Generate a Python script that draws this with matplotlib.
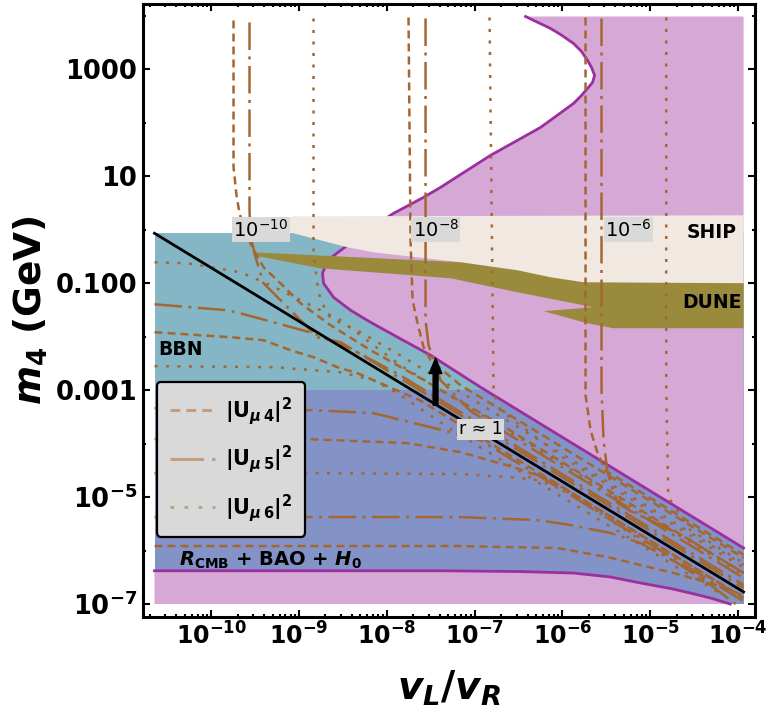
import numpy as np
import matplotlib
matplotlib.use('Agg')
import matplotlib.pyplot as plt
from matplotlib.lines import Line2D

# 字体设置：刻度与标签用粗体 DejaVu Sans
plt.rcParams['font.family'] = ['DejaVu Sans']
plt.rcParams['mathtext.fontset'] = 'custom'
plt.rcParams['mathtext.rm'] = 'DejaVu Sans:bold'
plt.rcParams['mathtext.it'] = 'DejaVu Sans:italic:bold'
plt.rcParams['mathtext.bf'] = 'DejaVu Sans:bold'
plt.rcParams['mathtext.sf'] = 'DejaVu Sans'

# ---- 数据（均为 log10 值，从图上读取） ----
x_lo, x_hi = -10.646, -3.937      # 数据区间 log10(vL/vR)
m_lo, m_hi = -7.0, 3.99           # 数据区间 log10(m4/GeV)
bbn_top, bbn_bottom = -0.065, -3.0

# 右上方排除区（紫色边界）
pink_up_lx = [-6.420, -6.135, -6.022, -5.874, -5.783, -5.714, -5.669, -5.634, -5.657, -5.714,
              -5.783, -5.874, -6.045, -6.249, -6.534, -6.819, -7.104, -7.388,
              -7.582, -7.923, -8.187, -8.449, -8.675, -8.732, -8.721, -8.607, -8.413, -8.186,
              -7.878, -7.502, -6.933, -3.937]
pink_up_lm = [3.99, 3.766, 3.654, 3.486, 3.336, 3.168, 3.037, 2.888, 2.757, 2.645,
              2.514, 2.364, 2.159, 1.916, 1.654, 1.393, 1.093, 0.794,
              0.607, 0.308, 0.028, -0.290, -0.570, -0.813, -1.0, -1.262, -1.505, -1.729,
              -2.009, -2.346, -2.944, -5.953]

# 下方排除区 (R_CMB + BAO + H0)
pink_lo_lx = [-10.646, -7.388, -6.477, -5.874, -5.452, -5.110, -4.768, -4.545, -4.313, -4.090]
pink_lo_lm = [-6.378, -6.378, -6.393, -6.421, -6.495, -6.607, -6.710, -6.794, -6.888, -7.0]

# SHIP 与 DUNE 灵敏度区
ship_lx = [-9.268, -9.074, -3.937, -3.937, -5.760, -7.161, -8.151, -8.449, -8.755, -9.154]
ship_lm = [0.028, 0.252, 0.271, -1.0, -1.0, -0.607, -0.421, -0.327, -0.196, -0.028]
dune_lx = [-9.518, -7.161, -6.511, -6.135, -5.760, -3.937, -3.937, -5.418, -5.714, -6.215,
           -5.657, -5.760, -6.511, -7.274, -8.755, -9.518]
dune_lm = [-0.421, -0.607, -0.757, -0.888, -0.981, -1.0, -1.841, -1.841, -1.748, -1.523,
           -1.449, -1.411, -1.168, -0.907, -0.720, -0.477]

# r ≈ 1 直线与箭头
r1_lx = [-10.646, -3.937]
r1_lm = [-0.065, -6.774]
arrow_lx = -7.445
arrow_lm = (-3.280, -2.402)

# |U|^2 等值线：高质量分支（竖直）
u4_g10_lx = [-9.746, -9.746, -9.712, -9.678, -9.609, -9.529, -9.404, -9.211, -8.983, -8.641,
             -8.186, -7.616, -6.705, -5.566, -4.427, -3.937]
u4_g10_lm = [3.916, 1.168, 0.645, 0.308, -0.047, -0.346, -0.701, -1.0, -1.374, -1.785,
             -2.252, -2.776, -3.643, -4.785, -5.927, -6.419]
u5_g10_lx = [-9.564, -9.564, -9.553, -9.496, -9.404, -9.211, -9.017, -8.789, -8.527, -7.616,
             -6.477, -5.338, -3.937]
u5_g10_lm = [3.879, 0.364, -0.103, -0.514, -1.0, -1.318, -1.636, -2.009, -2.103, -3.009,
             -4.151, -5.293, -6.699]
u6_g10_lx = [-8.835, -8.835, -8.800, -8.755, -8.641, -8.300, -7.844, -6.705, -5.566, -4.427, -3.937]
u6_g10_lm = [3.953, -0.383, -0.944, -1.318, -1.654, -1.916, -2.351, -3.493, -4.636, -5.778, -6.269]

u4_g8_lx = [-7.753, -7.730, -7.707, -7.650, -7.582, -7.502, -7.161, -6.477, -5.566, -4.427, -3.937]
u4_g8_lm = [3.972, -0.196, -1.318, -1.748, -2.196, -2.439, -2.907, -3.591, -4.505, -5.647, -6.138]
u5_g8_lx = [-7.559, -7.559, -7.525, -7.388, -7.046, -6.249, -5.110, -3.937]
u5_g8_lm = [3.953, -1.692, -2.159, -2.813, -3.393, -4.193, -5.335, -6.512]
u6_g8_lx = [-6.830, -6.784, -6.705, -6.021, -4.882, -3.937]
u6_g8_lm = [3.972, -3.056, -3.374, -4.234, -5.374, -6.325]

u4_g6_lx = [-5.737, -5.737, -5.680, -5.600, -5.509, -4.996, -4.427, -3.937]
u4_g6_lm = [3.972, -3.093, -3.748, -4.178, -4.507, -5.019, -5.591, -6.082]
u5_g6_lx = [-5.555, -5.555, -5.532, -5.486, -5.372, -5.224, -4.655, -3.937]
u5_g6_lm = [3.953, -2.963, -3.935, -4.551, -5.112, -5.262, -5.699, -6.419]
u6_g6_lx = [-4.818, -4.818, -4.795, -4.545, -3.937]
u6_g6_lm = [3.972, -2.925, -5.0, -5.617, -6.234]

# |U|^2 等值线：低质量分支（水平）
u6_h1_lx = [-10.646, -10.270, -9.666, -9.325, -8.983, -8.527, -7.844, -6.705, -5.566, -4.427, -3.937]
u6_h1_lm = [-0.607, -0.626, -0.794, -1.037, -1.318, -1.692, -2.538, -3.680, -4.822, -5.964, -6.456]
u5_h1_lx = [-10.646, -9.814, -9.586, -8.835, -8.380, -7.844, -6.705, -5.566, -4.427, -3.937]
u5_h1_lm = [-1.393, -1.505, -1.598, -1.935, -2.252, -2.725, -3.867, -5.009, -6.151, -6.643]
u4_h1_lx = [-10.646, -9.780, -9.404, -9.097, -8.835, -8.562, -8.334, -8.152, -7.616, -6.477, -5.338, -3.937]
u4_h1_lm = [-1.916, -2.009, -2.065, -2.252, -2.383, -2.570, -2.682, -2.813, -3.196, -4.338, -5.480, -6.886]

u6_h2_lx = [-10.646, -9.290, -8.527, -8.152, -7.878, -7.274, -6.135, -4.996, -4.199]
u6_h2_lm = [-2.551, -2.570, -2.664, -2.813, -3.056, -3.727, -4.869, -6.009, -6.809]
u5_h2_lx = [-10.646, -8.835, -8.152, -7.502, -6.933, -6.021, -4.882, -3.937]
u5_h2_lm = [-3.336, -3.374, -3.430, -3.692, -3.938, -4.850, -6.0, -6.947]
u4_h2_lx = [-10.646, -8.903, -7.764, -7.161, -6.557, -6.135, -5.566, -4.427, -4.085]
u4_h2_lm = [-3.916, -3.916, -3.991, -4.159, -4.439, -4.682, -5.252, -6.394, -6.738]

u6_h3_lx = [-10.646, -8.903, -7.161, -6.591, -6.283, -5.987, -5.794, -5.338, -4.655, -4.199]
u6_h3_lm = [-4.551, -4.551, -4.570, -4.626, -4.682, -4.869, -5.056, -5.561, -6.271, -6.738]
u5_h3_lx = [-10.646, -7.161, -6.283, -5.908, -5.452, -5.110, -4.689, -4.313, -4.029]
u5_h3_lm = [-5.374, -5.374, -5.430, -5.523, -5.673, -5.860, -6.234, -6.645, -7.0]
u4_h3_lx = [-10.646, -7.161, -6.056, -5.486, -4.734, -4.165, -3.937]
u4_h3_lm = [-5.916, -5.916, -5.953, -6.121, -6.421, -6.682, -6.850]

# 刻度
x_ticks = [-10, -9, -8, -7, -6, -5, -4]
x_ticklabels = [r'$10^{-10}$', r'$10^{-9}$', r'$10^{-8}$', r'$10^{-7}$',
                r'$10^{-6}$', r'$10^{-5}$', r'$10^{-4}$']
y_ticks = [3, 1, -1, -3, -5, -7]
y_ticklabels = ['1000', '10', '0.100', '0.001', r'$10^{-5}$', r'$10^{-7}$']
y_minor = [4, 2, 0, -2, -4, -6]

# 颜色
c_teal = '#84b6c6'
c_blue = '#8393c7'
c_pink = '#d5a8d5'
c_purple = '#9b2f9e'
c_ship = '#f1e8e2'
c_dune = '#9a8a3c'
c_brown = '#a5672f'
c_legend_line = '#c29f7f'
c_box = '#d9d9d9'

ls_u4 = (0, (3.2, 2.0))
ls_u5 = (0, (11, 2.6, 1.2, 2.6))
ls_u6 = (0, (1.2, 3.4))


def P(a):
    return 10.0 ** np.asarray(a, dtype=float)


fig = plt.figure(figsize=(7.68, 7.10), dpi=100)
ax = fig.add_axes([143/768, 1 - 617/710, 612/768, 613/710])
ax.set_xscale('log')
ax.set_yscale('log')

# 区域填充
ax.fill_between(P([x_lo, x_hi]), P(bbn_bottom), P(bbn_top), color=c_teal, lw=0, zorder=1)
ax.fill_between(P([x_lo, x_hi]), P(m_lo), P(bbn_bottom), color=c_blue, lw=0, zorder=1)
ax.fill(P(pink_up_lx + [x_hi]), P(pink_up_lm + [m_hi]), color=c_pink, lw=0, zorder=1.5)
ax.fill(P(pink_lo_lx + [x_lo]), P(pink_lo_lm + [m_lo]), color=c_pink, lw=0, zorder=1.5)
ax.plot(P(pink_up_lx), P(pink_up_lm), color=c_purple, lw=2.0, zorder=2)
ax.plot(P(pink_lo_lx), P(pink_lo_lm), color=c_purple, lw=2.0, zorder=2)
ax.fill(P(ship_lx), P(ship_lm), color=c_ship, lw=0, zorder=3)
ax.fill(P(dune_lx), P(dune_lm), color=c_dune, lw=0, zorder=3.1)

# 等值线
curves = [
    (u4_g10_lx, u4_g10_lm, ls_u4), (u5_g10_lx, u5_g10_lm, ls_u5), (u6_g10_lx, u6_g10_lm, ls_u6),
    (u4_g8_lx, u4_g8_lm, ls_u4), (u5_g8_lx, u5_g8_lm, ls_u5), (u6_g8_lx, u6_g8_lm, ls_u6),
    (u4_g6_lx, u4_g6_lm, ls_u4), (u5_g6_lx, u5_g6_lm, ls_u5), (u6_g6_lx, u6_g6_lm, ls_u6),
    (u6_h1_lx, u6_h1_lm, ls_u6), (u5_h1_lx, u5_h1_lm, ls_u5), (u4_h1_lx, u4_h1_lm, ls_u4),
    (u6_h2_lx, u6_h2_lm, ls_u6), (u5_h2_lx, u5_h2_lm, ls_u5), (u4_h2_lx, u4_h2_lm, ls_u4),
    (u6_h3_lx, u6_h3_lm, ls_u6), (u5_h3_lx, u5_h3_lm, ls_u5), (u4_h3_lx, u4_h3_lm, ls_u4),
]
for lx, lm, ls in curves:
    ax.plot(P(lx), P(lm), color=c_brown, lw=1.8, ls=ls, zorder=4)

# r ≈ 1 直线与箭头
ax.plot(P(r1_lx), P(r1_lm), color='black', lw=2.0, zorder=5)
ax.annotate('', xy=(P(arrow_lx), P(arrow_lm[1])), xytext=(P(arrow_lx), P(arrow_lm[0])),
            arrowprops=dict(facecolor='black', edgecolor='black', width=3.5, headwidth=9,
                            headlength=11, shrink=0), zorder=6)

# 文字标注
box = dict(boxstyle='square,pad=0.08', fc=c_box, ec='none')
for lx, lab in [(-9.438, r'$\mathsf{10^{-10}}$'), (-7.445, r'$\mathsf{10^{-8}}$'),
                (-5.250, r'$\mathsf{10^{-6}}$')]:
    ax.text(P(lx), P(0.0), lab, fontsize=14, ha='center', va='center', bbox=box, zorder=7)
ax.text(P(-6.933), P(-3.729), 'r ≈ 1', fontsize=12.5, ha='center', va='center',
        bbox=box, zorder=7)
ax.text(P(-4.302), P(-0.047), 'SHIP', fontsize=13.5, fontweight='bold',
        ha='center', va='center', zorder=7)
ax.text(P(-4.302), P(-1.355), 'DUNE', fontsize=13.5, fontweight='bold',
        ha='center', va='center', zorder=7)
ax.text(P(-10.348), P(-2.234), 'BBN', fontsize=13.5, fontweight='bold',
        ha='center', va='center', zorder=7)
ax.text(P(-9.32), P(-6.178), r'$R_{\mathrm{CMB}}$ + BAO + $H_{0}$', fontsize=14,
        fontweight='bold', ha='center', va='center', zorder=7)

# 图例
handles = [Line2D([], [], color=c_legend_line, lw=2.2, ls=ls_u4),
           Line2D([], [], color=c_legend_line, lw=2.2, ls=ls_u5),
           Line2D([], [], color=c_legend_line, lw=2.2, ls=ls_u6)]
labels = [r'$|\mathrm{U}_{\mu\,4}|^{2}$', r'$|\mathrm{U}_{\mu\,5}|^{2}$',
          r'$|\mathrm{U}_{\mu\,6}|^{2}$']
leg = ax.legend(handles, labels, loc='upper left', bbox_to_anchor=(0.0229, 0.383),
                fontsize=15, frameon=True, fancybox=True, facecolor=c_box,
                edgecolor='black', framealpha=1, handlelength=2.2, labelspacing=0.8,
                borderpad=0.6, handletextpad=0.45, borderaxespad=0)
leg.get_frame().set_linewidth(1.6)
leg.set_zorder(10)

# 坐标轴
ax.set_xlim(10 ** -10.777, 10 ** -3.807)
ax.set_ylim(10 ** -7.243, 10 ** 4.224)
ax.set_xticks(P(x_ticks))
ax.set_xticklabels(x_ticklabels)
ax.xaxis.set_minor_locator(matplotlib.ticker.LogLocator(base=10, subs=np.arange(2, 10), numticks=30))
ax.xaxis.set_minor_formatter(matplotlib.ticker.NullFormatter())
ax.set_yticks(P(y_ticks))
ax.set_yticklabels(y_ticklabels)
ax.set_yticks(P(y_minor), minor=True)
ax.yaxis.set_minor_formatter(matplotlib.ticker.NullFormatter())
ax.tick_params(which='both', direction='in', top=True, right=True, width=1.5)
ax.tick_params(which='major', length=5, pad=4)
ax.tick_params(axis='x', which='major', labelsize=17)
ax.tick_params(axis='y', which='major', labelsize=18.5)
ax.tick_params(which='minor', length=2.5)
for lab in ax.get_yticklabels() + ax.get_xticklabels():
    lab.set_fontweight('bold')
for sp in ax.spines.values():
    sp.set_linewidth(2.2)

ax.set_xlabel(r'$v_{L}/v_{R}$', fontsize=28, labelpad=14)
ax.set_ylabel(r'$m_{4}$ (GeV)', fontsize=27, fontweight='bold', labelpad=4)

fig.savefig('out.png', dpi=100)
